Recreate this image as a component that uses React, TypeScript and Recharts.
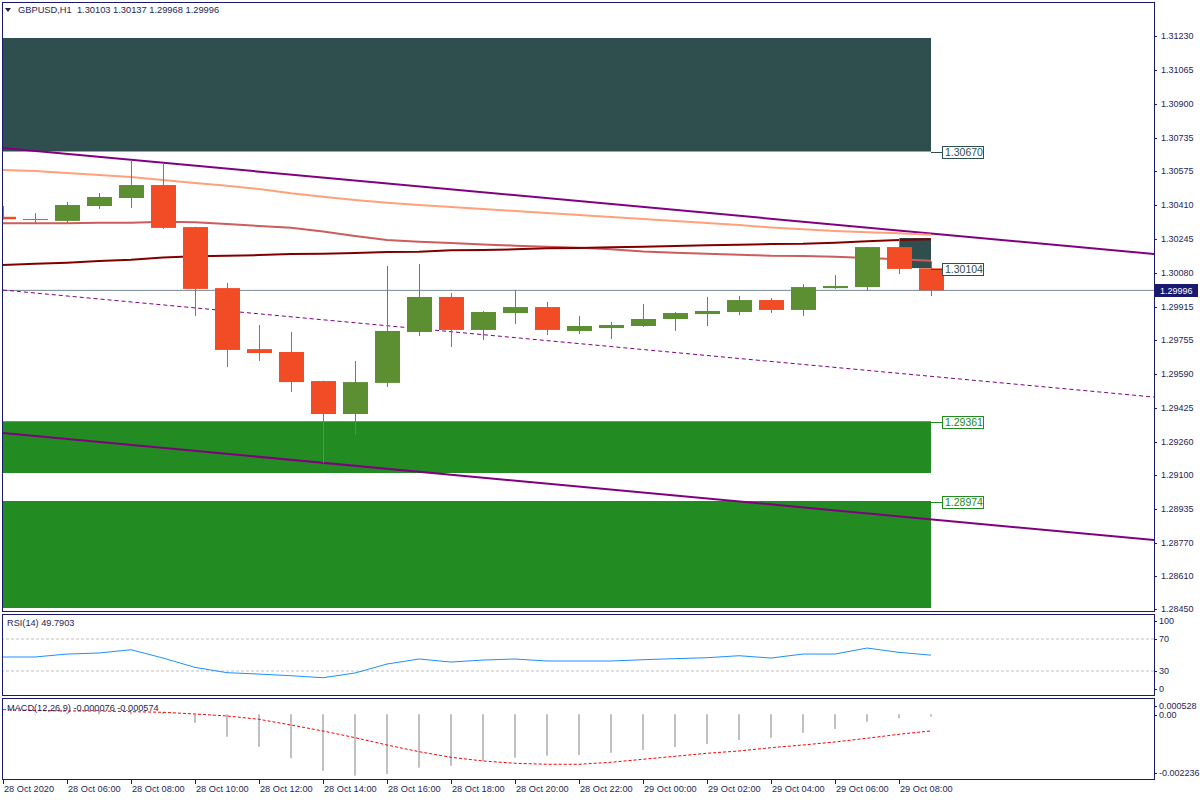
import React from 'react';
import {
  ComposedChart,
  Bar,
  Line,
  XAxis,
  YAxis,
  ReferenceArea,
  ReferenceLine,
  ReferenceDot,
} from 'recharts';

// ---------------- data ----------------
const symbol = 'GBPUSD';
const period = 'H1';

const barIndex = [0, 1, 2, 3, 4, 5, 6, 7, 8, 9, 10, 11, 12, 13, 14, 15, 16, 17, 18, 19, 20, 21, 22, 23, 24, 25, 26, 27, 28, 29];

const opens = [1.30353, 1.30342, 1.30333, 1.30405, 1.30444, 1.30507, 1.30303, 1.30007, 1.29711, 1.29697, 1.29556, 1.29396, 1.29547, 1.29794, 1.29964, 1.29804, 1.29886, 1.29915, 1.29799, 1.29813, 1.29823, 1.29857, 1.29881, 1.29891, 1.29949, 1.29901, 1.30007, 1.30012, 1.30206, 1.30103];
const highs = [1.30405, 1.30371, 1.30425, 1.30468, 1.30628, 1.30614, 1.30305, 1.30032, 1.29828, 1.29794, 1.29558, 1.29653, 1.30114, 1.30124, 1.29983, 1.29896, 1.29998, 1.29940, 1.29872, 1.29843, 1.29930, 1.29891, 1.29964, 1.29969, 1.29959, 1.30027, 1.30070, 1.30207, 1.30250, 1.30137];
const lows = [1.30340, 1.30323, 1.30323, 1.30391, 1.30396, 1.30294, 1.29872, 1.29624, 1.29653, 1.29503, 1.29158, 1.29294, 1.29527, 1.29775, 1.29721, 1.29755, 1.29833, 1.29779, 1.29784, 1.29760, 1.29818, 1.29799, 1.29823, 1.29876, 1.29886, 1.29872, 1.30003, 1.29993, 1.30075, 1.29968];
const closes = [1.30341, 1.30340, 1.30410, 1.30449, 1.30507, 1.30299, 1.30003, 1.29707, 1.29692, 1.29551, 1.29396, 1.29551, 1.29799, 1.29964, 1.29804, 1.29891, 1.29915, 1.29804, 1.29823, 1.29828, 1.29857, 1.29886, 1.29896, 1.29949, 1.29901, 1.30012, 1.30017, 1.30206, 1.30100, 1.29996];

const maFast = [1.30580, 1.30575, 1.30565, 1.30556, 1.30546, 1.30531, 1.30517, 1.30504, 1.30488, 1.30467, 1.30450, 1.30434, 1.30421, 1.30410, 1.30400, 1.30391, 1.30381, 1.30371, 1.30362, 1.30352, 1.30342, 1.30332, 1.30323, 1.30313, 1.30301, 1.30292, 1.30284, 1.30278, 1.30273, 1.30266];
const maMid = [1.30321, 1.30321, 1.30321, 1.30324, 1.30324, 1.30329, 1.30326, 1.30318, 1.30308, 1.30300, 1.30281, 1.30260, 1.30240, 1.30232, 1.30226, 1.30219, 1.30213, 1.30208, 1.30203, 1.30195, 1.30185, 1.30179, 1.30174, 1.30169, 1.30164, 1.30163, 1.30159, 1.30153, 1.30147, 1.30140];
const maSlow = [1.30119, 1.30125, 1.30130, 1.30138, 1.30145, 1.30156, 1.30161, 1.30164, 1.30167, 1.30172, 1.30174, 1.30177, 1.30182, 1.30183, 1.30190, 1.30192, 1.30195, 1.30200, 1.30201, 1.30205, 1.30208, 1.30211, 1.30215, 1.30217, 1.30221, 1.30222, 1.30227, 1.30234, 1.30240, 1.30244];

const rsiValues = [47.5, 47.5, 51.2, 52.5, 56.6, 46.2, 34.5, 27.9, 26.2, 24.1, 21.6, 27.5, 38.7, 45.0, 41.2, 43.7, 45.0, 42.5, 42.5, 42.5, 44.1, 45.4, 46.6, 49.1, 46.2, 51.2, 51.2, 58.7, 53.3, 49.7903];

const macdMain = [0.00002, 0.00002, 0.00006, 0.00008, 0.00008, 0.00007, -0.00029, -0.000774, -0.001119, -0.00152, -0.001949, -0.002121, -0.002063, -0.001845, -0.001776, -0.001613, -0.001499, -0.00143, -0.001406, -0.001327, -0.001233, -0.00113, -0.001026, -0.000888, -0.000808, -0.000636, -0.000508, -0.000256, -0.000138, -0.000076];
const macdSignal = [0.00016, 0.00013, 0.000114, 0.000114, 0.00009, 0.000069, 0.00001, -0.000059, -0.000173, -0.00037, -0.000577, -0.000808, -0.001061, -0.001292, -0.001486, -0.001613, -0.001693, -0.001727, -0.001727, -0.001658, -0.001555, -0.001451, -0.001347, -0.001268, -0.001154, -0.001061, -0.000957, -0.000829, -0.000691, -0.000574];

const timeTickIdx = [0, 2, 4, 6, 8, 10, 12, 14, 16, 18, 20, 22, 24, 26, 28];
const timeTickLabels = ['28 Oct 2020', '28 Oct 06:00', '28 Oct 08:00', '28 Oct 10:00', '28 Oct 12:00', '28 Oct 14:00', '28 Oct 16:00', '28 Oct 18:00', '28 Oct 20:00', '28 Oct 22:00', '29 Oct 00:00', '29 Oct 02:00', '29 Oct 04:00', '29 Oct 06:00', '29 Oct 08:00'];

const priceTicks = [1.3123, 1.31065, 1.309, 1.30735, 1.30575, 1.3041, 1.30245, 1.3008, 1.29915, 1.29755, 1.2959, 1.29425, 1.2926, 1.291, 1.28935, 1.2877, 1.2861, 1.2845];
const priceTickLabels = ['1.31230', '1.31065', '1.30900', '1.30735', '1.30575', '1.30410', '1.30245', '1.30080', '1.29915', '1.29755', '1.29590', '1.29425', '1.29260', '1.29100', '1.28935', '1.28770', '1.28610', '1.28450'];

const rsiTicks = [100, 70, 30, 0];
const rsiLevels = [70, 30];
const macdTicks = [0.000528, 0, -0.002236];
const macdTickLabels = ['0.000528', '0.00', '-0.002236'];

// zones: supply zone, two demand zones, small box
const zoneFrom = [0, 0, 0, 28];
const zoneTo = [29, 29, 29, 29];
const zoneLow = [1.3067, 1.2911, 1.28455, 1.30104];
const zoneHigh = [1.3122, 1.29361, 1.28974, 1.3025];

const tagAt = [29, 29, 29, 29];
const tagPrice = [1.3067, 1.30104, 1.29361, 1.28974];
const tagText = ['1.30670', '1.30104', '1.29361', '1.28974'];

// channel lines (endpoints in bar index / price)
const trendX = [0, 36];
const upperTrend = [1.306866, 1.301718];
const lowerTrend = [1.293038, 1.287841];
const midTrend = [1.299976, 1.294779];

// ---------------- styles ----------------
const FONT = "'Liberation Sans', Arial, Helvetica, sans-serif";
const FRAME = '#191970';
const TEXT = '#1e1e52';
const BULL = '#5B8F32';
const BEAR = '#F14C26';
const SLATE = '#2F4F4F';
const FOREST = '#228B22';
const zoneColor = [SLATE, FOREST, FOREST, SLATE];
const tagColor = [SLATE, SLATE, FOREST, FOREST];

const X_DOMAIN: [number, number] = [-0.03125, 35.96875];
const PRICE_DOMAIN: [number, number] = [1.284404, 1.31395];
const MACD_DOMAIN: [number, number] = [-0.002236, 0.000528];

const rows = barIndex.map((k, i) => ({
  k,
  range: [lows[i], highs[i]],
  o: opens[i],
  h: highs[i],
  l: lows[i],
  c: closes[i],
  maFast: maFast[i],
  maMid: maMid[i],
  maSlow: maSlow[i],
  rsi: rsiValues[i],
  macd: macdMain[i],
  signal: macdSignal[i],
}));

const last = closes.length - 1;

// ---------------- custom shapes ----------------
const Candle = (props: any) => {
  const { x, y, width, height, payload } = props;
  if (!payload || height == null) return null;
  const { o, h, l, c } = payload;
  const span = h - l;
  const ppu = span > 0 ? height / span : 0;
  const yOf = (p: number) => y + (h - p) * ppu;
  const cx = Math.round(x + width / 2);
  const color = c > o ? BULL : BEAR;
  const top = yOf(Math.max(o, c));
  const bot = yOf(Math.min(o, c));
  const bh = Math.max(bot - top, 1);
  return (
    <g>
      <line x1={cx + 0.5} x2={cx + 0.5} y1={y} y2={y + height} stroke={color} strokeWidth={1} />
      <rect x={cx - 12} y={top} width={25} height={bh} fill={color} />
    </g>
  );
};

const PriceTick = (props: any) => {
  const { x, y, payload, index } = props;
  const i = priceTicks.indexOf(payload.value);
  const label = i >= 0 ? priceTickLabels[i] : priceTickLabels[index];
  return (
    <g>
      <line x1={x} x2={x + 3} y1={Math.round(y) + 0.5} y2={Math.round(y) + 0.5} stroke={FRAME} />
      <text x={x + 7} y={y} dy={3.2} fontSize={9} fontFamily={FONT} fill={TEXT}>
        {label}
      </text>
    </g>
  );
};

const RsiTick = (props: any) => {
  const { x, y, payload } = props;
  const v = payload.value;
  const shift = v === 100 ? 6 : v === 0 ? -6 : 0;
  const yy = y + shift;
  return (
    <g>
      <line x1={x} x2={x + 3} y1={Math.round(yy) + 0.5} y2={Math.round(yy) + 0.5} stroke={FRAME} />
      <text x={x + 5} y={yy} dy={3.2} fontSize={9} fontFamily={FONT} fill={TEXT}>
        {v}
      </text>
    </g>
  );
};

const MacdTick = (props: any) => {
  const { x, y, payload } = props;
  const i = macdTicks.indexOf(payload.value);
  const shift = i === 0 ? 6.5 : i === macdTicks.length - 1 ? -6.5 : 0.5;
  const yy = y + shift;
  return (
    <g>
      <line x1={x} x2={x + 3} y1={Math.round(yy) + 0.5} y2={Math.round(yy) + 0.5} stroke={FRAME} />
      <text x={x + 5} y={yy} dy={3.2} fontSize={9} fontFamily={FONT} fill={TEXT}>
        {macdTickLabels[i]}
      </text>
    </g>
  );
};

const TimeTick = (props: any) => {
  const { x, y, payload } = props;
  const i = timeTickIdx.indexOf(payload.value);
  return (
    <g>
      <line x1={Math.round(x) + 0.5} x2={Math.round(x) + 0.5} y1={y} y2={y + 5} stroke={FRAME} />
      <text x={x + 1} y={y + 13} fontSize={9.2} fontFamily={FONT} fill={TEXT} textAnchor="start">
        {timeTickLabels[i]}
      </text>
    </g>
  );
};

const PriceTag = (props: any) => {
  const vb = props.viewBox || {};
  const right = (vb.x || 0) + (vb.width || 0);
  const y = vb.y || 0;
  return (
    <g>
      <rect x={right + 1} y={Math.round(y) - 6} width={43} height={13} fill={FRAME} />
      <text x={right + 6} y={y} dy={3.5} fontSize={9} fontFamily={FONT} fill="#ffffff">
        {closes[last].toFixed(5)}
      </text>
    </g>
  );
};

const makeZoneTag = (text: string, color: string) => (p: any) => {
  const cx = p.cx;
  const cy = Math.round(p.cy);
  return (
    <g>
      <line x1={cx} x2={cx + 11} y1={cy + 1.5} y2={cy + 1.5} stroke={color} />
      <rect x={cx + 11.5} y={cy - 4.5} width={41} height={12} fill="#ffffff" stroke={color} />
      <text x={cx + 14} y={cy + 1.5} dy={3.8} fontSize={10.5} fontFamily={FONT} fill={color}>
        {text}
      </text>
    </g>
  );
};

// ---------------- app ----------------
const abs = (left: number, top: number, width: number, height: number): React.CSSProperties => ({
  position: 'absolute',
  left,
  top,
  width,
  height,
});

const frameStyle = (top: number, height: number): React.CSSProperties => ({
  position: 'absolute',
  left: 2,
  top,
  width: 1153,
  height,
  boxSizing: 'border-box',
  border: `1px solid ${FRAME}`,
  pointerEvents: 'none',
});

const titleStyle = (left: number, top: number, size: number): React.CSSProperties => ({
  position: 'absolute',
  left,
  top,
  fontFamily: FONT,
  fontSize: size,
  lineHeight: '12px',
  color: TEXT,
  whiteSpace: 'pre',
  pointerEvents: 'none',
});

export default function App() {
  const title = `${symbol},${period}  ${opens[last].toFixed(5)} ${highs[last].toFixed(5)} ${lows[last].toFixed(5)} ${closes[last].toFixed(5)}`;
  const rsiTitle = `RSI(14) ${rsiValues[last].toFixed(4)}`;
  const macdTitle = `MACD(12,26,9) ${macdMain[last].toFixed(6)} ${macdSignal[last].toFixed(6)}`;

  return (
    <div style={{ position: 'absolute', left: 0, top: 0, width: 1200, height: 800, background: '#ffffff', overflow: 'hidden' }}>
      {/* main price panel */}
      <div style={abs(0, 0, 1200, 615)}>
        <ComposedChart width={1200} height={615} data={rows} margin={{ top: 2, right: 0, bottom: 4, left: 2 }}>
          <XAxis type="number" dataKey="k" domain={X_DOMAIN} allowDataOverflow hide ticks={timeTickIdx} interval={0} />
          <YAxis
            orientation="right"
            width={46}
            type="number"
            domain={PRICE_DOMAIN}
            allowDataOverflow
            ticks={priceTicks}
            interval={0}
            axisLine={false}
            tickLine={false}
            tickSize={0}
            tickMargin={0}
            tick={<PriceTick />}
          />
          {zoneLow.map((lo, i) => (
            <ReferenceArea
              key={`z${i}`}
              x1={zoneFrom[i]}
              x2={zoneTo[i]}
              y1={lo}
              y2={zoneHigh[i]}
              fill={zoneColor[i]}
              fillOpacity={1}
              stroke="none"
              ifOverflow="hidden"
              zIndex={100}
            />
          ))}
          <ReferenceLine
            y={closes[last]}
            stroke="#778899"
            strokeWidth={1}
            zIndex={200}
            label={(p: any) => <PriceTag {...p} />}
          />
          <ReferenceLine
            segment={[{ x: trendX[0], y: midTrend[0] }, { x: trendX[1], y: midTrend[1] }]}
            stroke="#800080"
            strokeWidth={1}
            strokeDasharray="4 3"
            ifOverflow="hidden"
            zIndex={200}
          />
          <ReferenceLine
            segment={[{ x: trendX[0], y: upperTrend[0] }, { x: trendX[1], y: upperTrend[1] }]}
            stroke="#800080"
            strokeWidth={2}
            ifOverflow="hidden"
            zIndex={200}
          />
          <ReferenceLine
            segment={[{ x: trendX[0], y: lowerTrend[0] }, { x: trendX[1], y: lowerTrend[1] }]}
            stroke="#800080"
            strokeWidth={2}
            ifOverflow="hidden"
            zIndex={200}
          />
          <Line type="linear" dataKey="maFast" stroke="#FFA07A" strokeWidth={2} dot={false} activeDot={false} isAnimationActive={false} zIndex={300} />
          <Line type="linear" dataKey="maMid" stroke="#CD5C5C" strokeWidth={2} dot={false} activeDot={false} isAnimationActive={false} zIndex={300} />
          <Line type="linear" dataKey="maSlow" stroke="#800000" strokeWidth={2} dot={false} activeDot={false} isAnimationActive={false} zIndex={300} />
          <Bar dataKey="range" barSize={25} shape={<Candle />} isAnimationActive={false} zIndex={400} />
          {tagPrice.map((p, i) => (
            <ReferenceDot
              key={`t${i}`}
              x={tagAt[i]}
              y={p}
              r={0}
              zIndex={600}
              shape={makeZoneTag(tagText[i], tagColor[i])}
            />
          ))}
        </ComposedChart>
      </div>

      {/* RSI panel */}
      <div style={abs(0, 615, 1200, 80)}>
        <ComposedChart width={1200} height={80} data={rows} margin={{ top: 0, right: 0, bottom: 0, left: 2 }}>
          <XAxis type="number" dataKey="k" domain={X_DOMAIN} allowDataOverflow hide ticks={timeTickIdx} interval={0} />
          <YAxis
            orientation="right"
            width={46}
            type="number"
            domain={[0, 100]}
            allowDataOverflow
            ticks={rsiTicks}
            interval={0}
            axisLine={false}
            tickLine={false}
            tickSize={0}
            tickMargin={0}
            tick={<RsiTick />}
          />
          {rsiLevels.map((lv) => (
            <ReferenceLine key={`l${lv}`} y={lv} stroke="#C0C0C0" strokeDasharray="3 2" zIndex={200} />
          ))}
          <Line type="linear" dataKey="rsi" stroke="#1E90FF" strokeWidth={1} dot={false} activeDot={false} isAnimationActive={false} zIndex={300} />
        </ComposedChart>
      </div>

      {/* MACD panel */}
      <div style={abs(0, 699, 1200, 101)}>
        <ComposedChart width={1200} height={101} data={rows} margin={{ top: 0, right: 0, bottom: 0, left: 2 }}>
          <XAxis
            type="number"
            dataKey="k"
            domain={X_DOMAIN}
            allowDataOverflow
            ticks={timeTickIdx}
            interval={0}
            height={21}
            axisLine={false}
            tickLine={false}
            tickSize={0}
            tickMargin={0}
            tick={<TimeTick />}
          />
          <YAxis
            orientation="right"
            width={46}
            type="number"
            domain={MACD_DOMAIN}
            allowDataOverflow
            ticks={macdTicks}
            interval={0}
            axisLine={false}
            tickLine={false}
            tickSize={0}
            tickMargin={0}
            tick={<MacdTick />}
          />
          <Bar dataKey="macd" barSize={2} fill="#C0C0C0" isAnimationActive={false} zIndex={300} />
          <Line type="linear" dataKey="signal" stroke="#FF0000" strokeWidth={1} strokeDasharray="3 2" dot={false} activeDot={false} isAnimationActive={false} zIndex={400} />
        </ComposedChart>
      </div>

      {/* frames */}
      <div style={frameStyle(2, 610)} />
      <div style={frameStyle(614, 82)} />
      <div style={frameStyle(698, 82)} />

      {/* titles */}
      <div
        style={{
          position: 'absolute',
          left: 5,
          top: 8,
          width: 0,
          height: 0,
          borderLeft: '3.5px solid transparent',
          borderRight: '3.5px solid transparent',
          borderTop: `4px solid ${TEXT}`,
        }}
      />
      <div style={titleStyle(18, 4, 9.3)}>{title}</div>
      <div style={titleStyle(7, 617, 9.2)}>{rsiTitle}</div>
      <div style={titleStyle(7, 701.5, 9.2)}>{macdTitle}</div>
    </div>
  );
}
